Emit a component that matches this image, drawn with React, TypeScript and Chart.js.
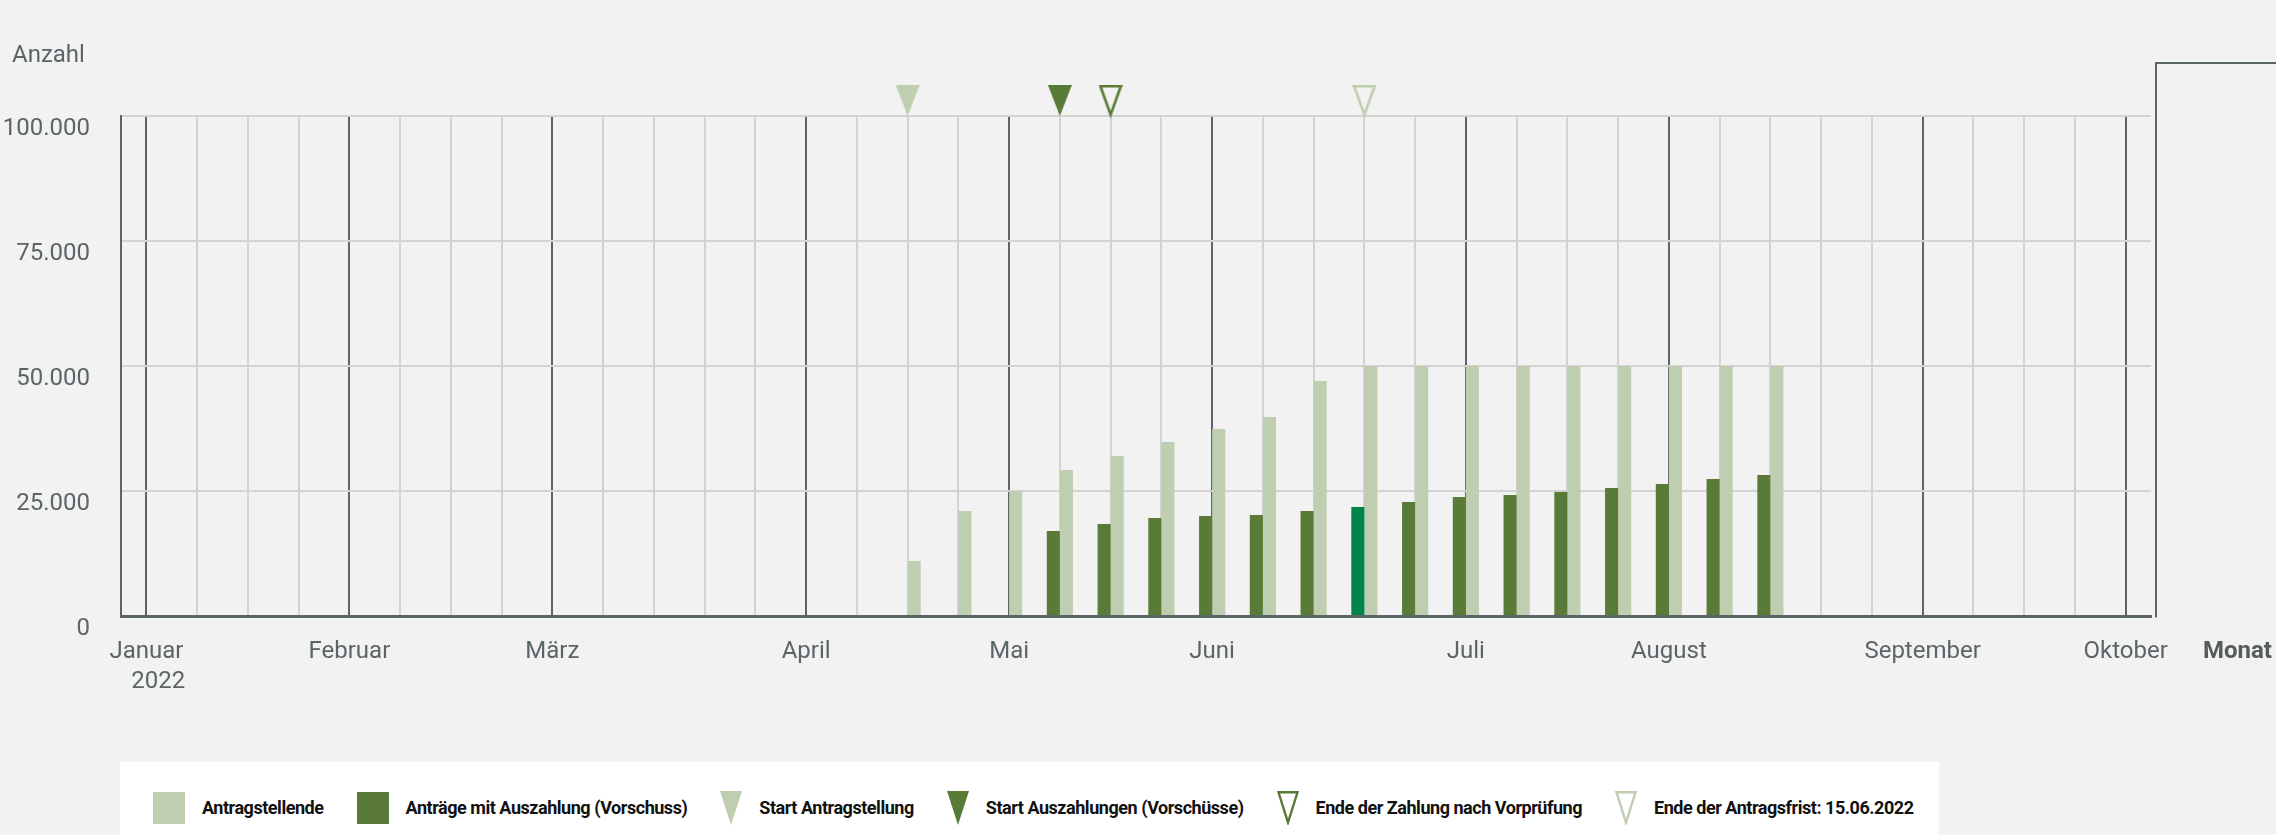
import React, { useEffect, useRef } from 'react';
import { Chart, registerables } from 'chart.js';

Chart.register(...registerables);

// ---------- data ----------
const MONTH_NAMES = ['Januar', 'Februar', 'März', 'April', 'Mai', 'Juni', 'Juli', 'August', 'September', 'Oktober'];
const MONTH_START_WEEKS = [0, 4, 8, 13, 17, 21, 26, 30, 35, 39];
const WEEK_COUNT = 40;
const YEAR_LABEL = '2022';

const FIRST_DATA_WEEK = 15;
const ANTRAGSTELLENDE = [11000, 21000, 25000, 29200, 32000, 34800, 37400, 39800, 47000, 50000, 50000, 50000, 50000, 50000, 50000, 50000, 50000, 50000];
const AUSZAHLUNGEN = [null, null, null, 17000, 18400, 19600, 20000, 20200, 21000, 21800, 22800, 23800, 24200, 24800, 25600, 26400, 27400, 28200];
const HIGHLIGHT_WEEK = 24;

const SERIES_LABELS = ['Antragstellende', 'Anträge mit Auszahlung (Vorschuss)'];
const EVENT_LABELS = ['Start Antragstellung', 'Start Auszahlungen (Vorschüsse)', 'Ende der Zahlung nach Vorprüfung', 'Ende der Antragsfrist: 15.06.2022'];
const EVENT_WEEKS = [15, 18, 19, 24];
const EVENT_FILLED = [true, true, false, false];
const EVENT_VALUE = 100000;

const Y_MIN = 0;
const Y_MAX = 100000;
const Y_STEP = 25000;
const Y_TITLE = 'Anzahl';
const X_TITLE = 'Monat';

// ---------- styles ----------
const FONT = 'Roboto, "Open Sans", sans-serif';
const BG = '#f2f2f2';
const LIGHT = '#bfcdb1';
const DARK = '#5a7b37';
const HIGHLIGHT = '#00844a';
const GRID_LIGHT = '#d3d3d3';
const GRID_DARK = '#5c6668';
const TEXT = '#5b6568';
const EVENT_COLORS = [LIGHT, DARK, DARK, LIGHT];

const fmt = (v: number) => String(v).replace(/\B(?=(\d{3})+(?!\d))/g, '.');

function makeTriangle(color: string, filled: boolean): HTMLCanvasElement {
  const w = 24;
  const h = 31;
  const c = document.createElement('canvas');
  c.width = w;
  c.height = h * 2;
  const ctx = c.getContext('2d')!;
  ctx.beginPath();
  if (filled) {
    ctx.moveTo(0, 0);
    ctx.lineTo(w, 0);
    ctx.lineTo(w / 2, h);
    ctx.closePath();
    ctx.fillStyle = color;
    ctx.fill();
  } else {
    const lw = 2.6;
    ctx.moveTo(lw / 2 + 0.5, lw / 2);
    ctx.lineTo(w - lw / 2 - 0.5, lw / 2);
    ctx.lineTo(w / 2, h - lw / 2);
    ctx.closePath();
    ctx.lineWidth = lw;
    ctx.lineJoin = 'miter';
    ctx.strokeStyle = color;
    ctx.stroke();
  }
  return c;
}

const extrasPlugin = {
  id: 'extras',
  afterDraw(chart: any) {
    const { ctx, chartArea, width } = chart;
    ctx.save();
    const xr = Math.round(chartArea.right) + 5;
    ctx.strokeStyle = GRID_DARK;
    ctx.lineWidth = 2;
    ctx.beginPath();
    ctx.moveTo(xr, chartArea.bottom + 1.5);
    ctx.lineTo(xr, chartArea.top - 53);
    ctx.lineTo(width, chartArea.top - 53);
    ctx.stroke();
    ctx.textBaseline = 'middle';
    ctx.textAlign = 'left';
    ctx.font = `normal 24px ${FONT}`;
    ctx.fillStyle = TEXT;
    ctx.fillText(Y_TITLE, 12, chartArea.top - 60);
    ctx.font = `bold 24px ${FONT}`;
    ctx.fillStyle = '#555c5e';
    ctx.fillText(X_TITLE, xr + 47, chartArea.bottom + 36);
    ctx.restore();
  },
};

function LegendMarker({ kind, color }: { kind: 'square' | 'tri' | 'triOutline'; color: string }) {
  if (kind === 'square') {
    return <div style={{ width: 32, height: 32, background: color, flex: '0 0 auto' }} />;
  }
  return (
    <svg width={22} height={34} style={{ flex: '0 0 auto', display: 'block' }}>
      {kind === 'tri' ? (
        <polygon points="0,0 22,0 11,34" fill={color} />
      ) : (
        <polygon points="1.5,1.3 20.5,1.3 11,31.5" fill="none" stroke={color} strokeWidth={2.4} />
      )}
    </svg>
  );
}

export default function App() {
  const canvasRef = useRef<HTMLCanvasElement>(null);

  useEffect(() => {
    const canvas = canvasRef.current!;
    const labels = Array.from({ length: WEEK_COUNT }, (_, w) => {
      const m = MONTH_START_WEEKS.indexOf(w);
      if (m < 0) return '';
      return w === 0 ? [MONTH_NAMES[m], '    ' + YEAR_LABEL] : MONTH_NAMES[m];
    });
    const pad = (vals: (number | null)[]) =>
      Array.from({ length: WEEK_COUNT }, (_, w) => {
        const i = w - FIRST_DATA_WEEK;
        return i >= 0 && i < vals.length ? vals[i] : null;
      });

    const eventDatasets = EVENT_LABELS.map((label, k) => ({
      type: 'line' as const,
      label,
      data: Array.from({ length: WEEK_COUNT }, (_, w) => (w === EVENT_WEEKS[k] ? EVENT_VALUE : null)),
      showLine: false,
      pointStyle: makeTriangle(EVENT_COLORS[k], EVENT_FILLED[k]),
      pointRadius: 12,
      pointHoverRadius: 12,
      clip: false as any,
      order: -1,
    }));

    const chart = new Chart(canvas, {
      type: 'bar',
      data: {
        labels,
        datasets: [
          {
            label: SERIES_LABELS[1],
            data: pad(AUSZAHLUNGEN),
            backgroundColor: (c: any) => (c.dataIndex === HIGHLIGHT_WEEK ? HIGHLIGHT : DARK),
            borderWidth: 0,
            categoryPercentage: 0.515,
            barPercentage: 1,
          },
          {
            label: SERIES_LABELS[0],
            data: pad(ANTRAGSTELLENDE),
            backgroundColor: LIGHT,
            borderWidth: 0,
            categoryPercentage: 0.515,
            barPercentage: 1,
          },
          ...eventDatasets,
        ] as any,
      },
      options: {
        responsive: false,
        animation: false,
        events: [],
        layout: { padding: { top: 116, left: 0, right: 125, bottom: 117 } },
        font: { family: FONT } as any,
        plugins: {
          legend: { display: false },
          tooltip: { enabled: false },
          title: { display: false },
        },
        scales: {
          x: {
            offset: true,
            grid: {
              offset: false,
              drawTicks: false,
              color: (c: any) => (MONTH_START_WEEKS.includes(c.index) ? GRID_DARK : GRID_LIGHT),
              lineWidth: 2,
            },
            border: { display: true, color: GRID_DARK, width: 3 },
            ticks: {
              autoSkip: false,
              maxRotation: 0,
              minRotation: 0,
              padding: 21,
              color: TEXT,
              font: { family: FONT, size: 24, lineHeight: 1.25 },
            },
          },
          y: {
            min: Y_MIN,
            max: Y_MAX,
            afterFit: (scale: any) => {
              scale.width = 121;
            },
            grid: { color: GRID_LIGHT, lineWidth: 2, drawTicks: false },
            border: { display: true, color: GRID_DARK, width: 2 },
            ticks: {
              stepSize: Y_STEP,
              padding: 31,
              labelOffset: 13,
              color: TEXT,
              font: { family: FONT, size: 24 },
              callback: (v: any) => fmt(Number(v)),
            },
          },
        },
      },
      plugins: [extrasPlugin],
    });
    return () => chart.destroy();
  }, []);

  const legendItems: { kind: 'square' | 'tri' | 'triOutline'; color: string; label: string }[] = [
    { kind: 'square', color: LIGHT, label: SERIES_LABELS[0] },
    { kind: 'square', color: DARK, label: SERIES_LABELS[1] },
    ...EVENT_LABELS.map((label, k) => ({
      kind: (EVENT_FILLED[k] ? 'tri' : 'triOutline') as 'tri' | 'triOutline',
      color: EVENT_COLORS[k],
      label,
    })),
  ];

  return (
    <div style={{ position: 'fixed', inset: 0, background: BG, overflow: 'hidden' }}>
      <canvas ref={canvasRef} width={2276} height={835} style={{ position: 'absolute', left: 0, top: 0, display: 'block' }} />
      <div
        style={{
          position: 'absolute',
          left: 120,
          top: 762,
          width: 1819,
          height: 73,
          background: '#ffffff',
          boxSizing: 'border-box',
          paddingTop: 18,
          paddingLeft: 33,
          display: 'flex',
          alignItems: 'center',
          fontFamily: FONT,
          fontWeight: 700,
          fontSize: 18,
          letterSpacing: '-0.46px',
          color: '#111111',
          whiteSpace: 'nowrap',
        }}
      >
        {legendItems.map((it, i) => (
          <div key={i} style={{ display: 'flex', alignItems: 'center', marginRight: 33 }}>
            <LegendMarker kind={it.kind} color={it.color} />
            <span style={{ marginLeft: 17 }}>{it.label}</span>
          </div>
        ))}
      </div>
    </div>
  );
}
